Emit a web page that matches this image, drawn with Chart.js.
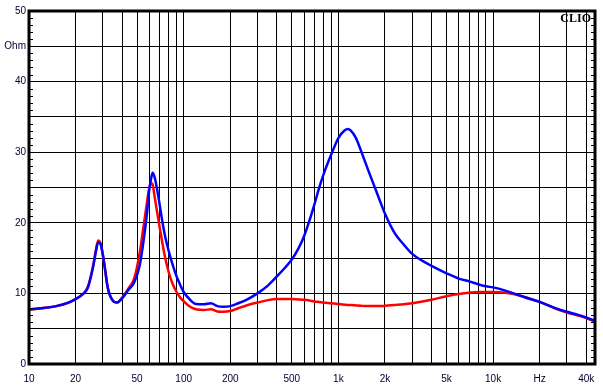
<!DOCTYPE html>
<html>
<head>
<meta charset="utf-8">
<script src="https://cdn.jsdelivr.net/npm/chart.js@4.4.0/dist/chart.umd.min.js"></script>
<style>
  html, body { margin: 0; padding: 0; background: #ffffff; }
  #wrap { width: 603px; height: 390px; }
</style>
</head>
<body>
<div id="wrap"><canvas id="imp" width="603" height="390"></canvas></div>
<script>
// frequency points (Hz) shared by both curves
const freqs = [10, 12, 15, 18, 20, 22, 24, 26, 27, 28, 29, 30, 31, 32, 33, 35, 37, 40, 44, 48,
  52, 55, 58, 60, 62, 63, 65, 67, 70, 73, 76, 80, 85, 90, 95, 100, 110, 120, 135, 150,
  165, 180, 200, 225, 260, 300, 350, 400, 450, 500, 550, 600, 650, 700, 750, 800, 900, 1000, 1100, 1150, 1200, 1300,
  1400, 1550, 1700, 1850, 2000, 2300, 2650, 3000, 3500, 4000, 5000, 6000, 7000, 8000, 9000, 10000, 12000, 14000, 16000, 20000,
  25000, 30000, 35000, 40000, 45600];

// impedance, Ohm
const blueOhm = [7.75, 7.9, 8.2, 8.7, 9.2, 9.8, 10.8, 13.8, 15.8, 17.2, 17.0, 15.5, 13.5, 11.3, 10.0, 8.9, 8.7, 9.3, 10.5, 11.6,
  14.0, 17.4, 21.5, 24.8, 26.6, 27.1, 26.4, 25.0, 22.5, 20.0, 18.0, 16.0, 14.0, 12.4, 11.2, 10.2, 9.1, 8.5, 8.45, 8.6,
  8.2, 8.1, 8.2, 8.6, 9.2, 10.0, 11.1, 12.4, 13.6, 14.8, 16.3, 18.1, 20.3, 22.6, 24.9, 26.8, 29.7, 32.0, 33.1, 33.3, 33.1, 32.0,
  30.2, 27.6, 25.3, 23.2, 21.3, 18.6, 16.9, 15.6, 14.6, 13.9, 12.85, 12.1, 11.7, 11.3, 11.0, 10.85, 10.4, 9.9, 9.45, 8.8,
  7.95, 7.4, 7.0, 6.6, 6.1];

const redOhm = [7.7, 7.9, 8.2, 8.7, 9.2, 9.8, 10.9, 14.0, 16.0, 17.5, 17.1, 15.5, 13.4, 11.3, 10.0, 8.9, 8.7, 9.4, 10.7, 12.2,
  15.8, 19.5, 23.0, 25.0, 25.6, 25.4, 23.6, 21.8, 19.3, 17.0, 15.0, 13.0, 11.3, 10.2, 9.4, 8.9, 8.1, 7.75, 7.65, 7.75,
  7.45, 7.4, 7.5, 7.9, 8.35, 8.7, 9.05, 9.2, 9.2, 9.2, 9.15, 9.1, 9.0, 8.85, 8.78, 8.7, 8.6, 8.5, 8.4, 8.35, 8.35, 8.3,
  8.25, 8.2, 8.2, 8.2, 8.25, 8.35, 8.45, 8.6, 8.85, 9.1, 9.6, 9.9, 10.1, 10.2, 10.2, 10.2, 10.1, 9.85, 9.5, 8.8,
  7.9, 7.3, 6.9, 6.5, 6.0];

// axis ticks
const xGrid = [10, 20, 30, 40, 50, 60, 70, 80, 90, 100, 200, 300, 400, 500, 600, 700, 800, 900, 1000,
  2000, 3000, 4000, 5000, 6000, 7000, 8000, 9000, 10000, 20000, 30000, 40000];
const xLabels = { 10: '10', 20: '20', 50: '50', 100: '100', 200: '200', 500: '500', 1000: '1k', 2000: '2k',
  5000: '5k', 10000: '10k', 20000: 'Hz', 40000: '40k' };
const yLabels = { 0: '0', 10: '10', 20: '20', 30: '30', 40: '40', 45: 'Ohm', 50: '50' };

const toPoints = (ys) => freqs.map((f, i) => ({ x: f, y: ys[i] }));

// frame, 1 Ohm minor ticks and the CLIO mark
const framePlugin = {
    id: 'frame',
    afterDraw(chart) {
        const { ctx, chartArea: a, scales } = chart;
        ctx.save();
        ctx.strokeStyle = '#000';
        ctx.lineWidth = 1;
        ctx.beginPath();
        for (let v = 1; v < 50; v++) {
            if (v % 5 === 0) continue;
            const y = Math.round(scales.y.getPixelForValue(v)) + 0.5;
            ctx.moveTo(a.left, y); ctx.lineTo(a.left + 4, y);
            ctx.moveTo(a.right - 4, y); ctx.lineTo(a.right, y);
        }
        ctx.stroke();
        ctx.lineWidth = 3;
        ctx.strokeRect(a.left, a.top, a.right - a.left, a.bottom - a.top);
        ctx.fillStyle = '#000';
        ctx.font = 'bold 12px "Liberation Serif"';
        ctx.textAlign = 'right';
        ctx.textBaseline = 'top';
        ctx.fillText('CLIO', a.right - 4, a.top + 2);
        ctx.restore();
    }
};

const ctx = document.getElementById('imp').getContext('2d');
new Chart(ctx, {
    type: 'line',
    data: {
        datasets: [
            {
                label: 'blue',
                data: toPoints(blueOhm),
                borderColor: '#0000ff',
                borderWidth: 2.5,
                pointRadius: 0,
                cubicInterpolationMode: 'monotone',
                fill: false
            },
            {
                label: 'red',
                data: toPoints(redOhm),
                borderColor: '#ff0000',
                borderWidth: 2.5,
                pointRadius: 0,
                cubicInterpolationMode: 'monotone',
                fill: false
            }
        ]
    },
    options: {
        responsive: false,
        devicePixelRatio: 1,
        animation: false,
        events: [],
        layout: { padding: { top: 11, right: 8, left: 0, bottom: 0 } },
        plugins: { legend: { display: false }, tooltip: { enabled: false } },
        scales: {
            x: {
                type: 'logarithmic',
                min: 10,
                max: 45600,
                afterBuildTicks: (s) => { s.ticks = xGrid.map(v => ({ value: v })); },
                afterFit: (s) => { s.height = 26; s.paddingLeft = 0; s.paddingRight = 0; },
                grid: { color: '#000', lineWidth: 1, drawTicks: false },
                border: { display: false },
                ticks: {
                    autoSkip: false,
                    maxRotation: 0,
                    padding: 9,
                    color: '#000033',
                    font: { family: '"Liberation Sans", Arial', size: 10 },
                    callback: (v) => xLabels[v] || ''
                }
            },
            y: {
                min: 0,
                max: 50,
                afterFit: (s) => { s.width = 29; s.paddingTop = 0; s.paddingBottom = 0; },
                grid: { color: '#000', lineWidth: 1, drawTicks: false },
                border: { display: false },
                ticks: {
                    stepSize: 5,
                    padding: 3,
                    color: '#000033',
                    font: { family: '"Liberation Sans", Arial', size: 10 },
                    callback: (v) => yLabels[v] || ''
                }
            }
        }
    },
    plugins: [framePlugin]
});
</script>
</body>
</html>
